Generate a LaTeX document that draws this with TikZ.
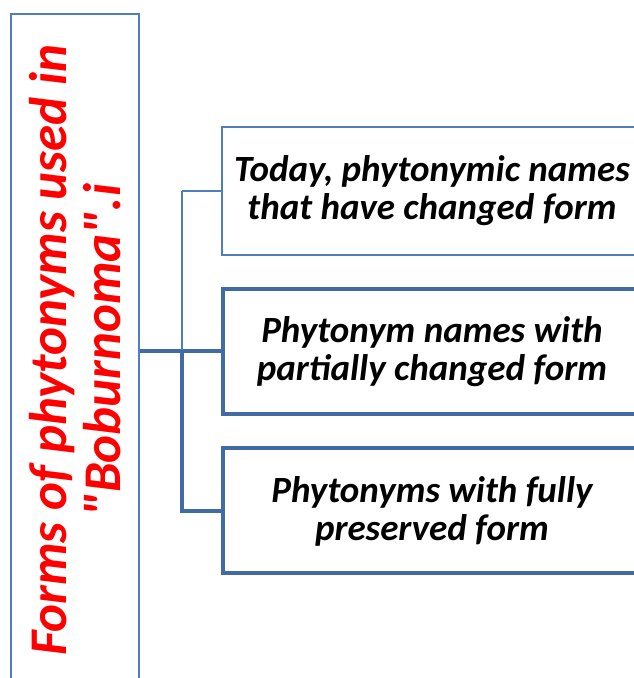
\documentclass[tikz,border=0pt]{standalone}
\usepackage{fontspec}
\setmainfont{Carlito}[Ligatures=TeXOff]
\usepackage{tikz}
\usetikzlibrary{positioning, calc}
\usepackage{xcolor}
\definecolor{LineBlue}{RGB}{79,126,190}
\definecolor{DeepBlue}{RGB}{66,106,164}
\definecolor{TitleRed}{RGB}{255,0,0}
\tikzset{
  basebox/.style={rectangle,draw=LineBlue,fill=white,align=center,
    font=\fontsize{37}{38}\selectfont\bfseries\itshape},
  titlebox/.style={basebox,line width=2pt,text=TitleRed,rotate=90,
    font=\fontsize{53}{54}\selectfont\bfseries\itshape,
    minimum width=672pt,minimum height=128pt},
  lightbox/.style={basebox,line width=2pt,minimum width=420pt,minimum height=128pt},
  heavybox/.style={basebox,draw=DeepBlue,line width=4pt,minimum width=418pt,minimum height=125pt},
  thinlink/.style={draw=LineBlue,line width=2pt},
  thicklink/.style={draw=DeepBlue,line width=4pt}
}
\begin{document}
\begin{tikzpicture}[x=1pt,y=1pt]
  \useasboundingbox (0,0) rectangle (633,678);
  \node[titlebox] (forms) at (75,328) {Forms of phytonyms used in\\"Boburnoma".i};
  \node[lightbox] (changed) at (432,487) {Today, phytonymic names\\that have changed form};
  \node[heavybox] (partial) at (432,326.5) {Phytonym names with\\partially changed form};
  \node[heavybox] (kept) at (432,167) {Phytonyms with fully\\preserved form};
  \coordinate (hub) at (182,328);
  \draw[thicklink] (partial.west -| forms.south) -- (partial.west);
  \draw[thinlink] (hub |- changed.west) -- (changed.west);
  \draw[thinlink] (hub |- changed.west) -- (hub);
  \draw[thicklink] (hub) -- (hub |- kept.west) -- (kept.west);
\end{tikzpicture}
\end{document}
